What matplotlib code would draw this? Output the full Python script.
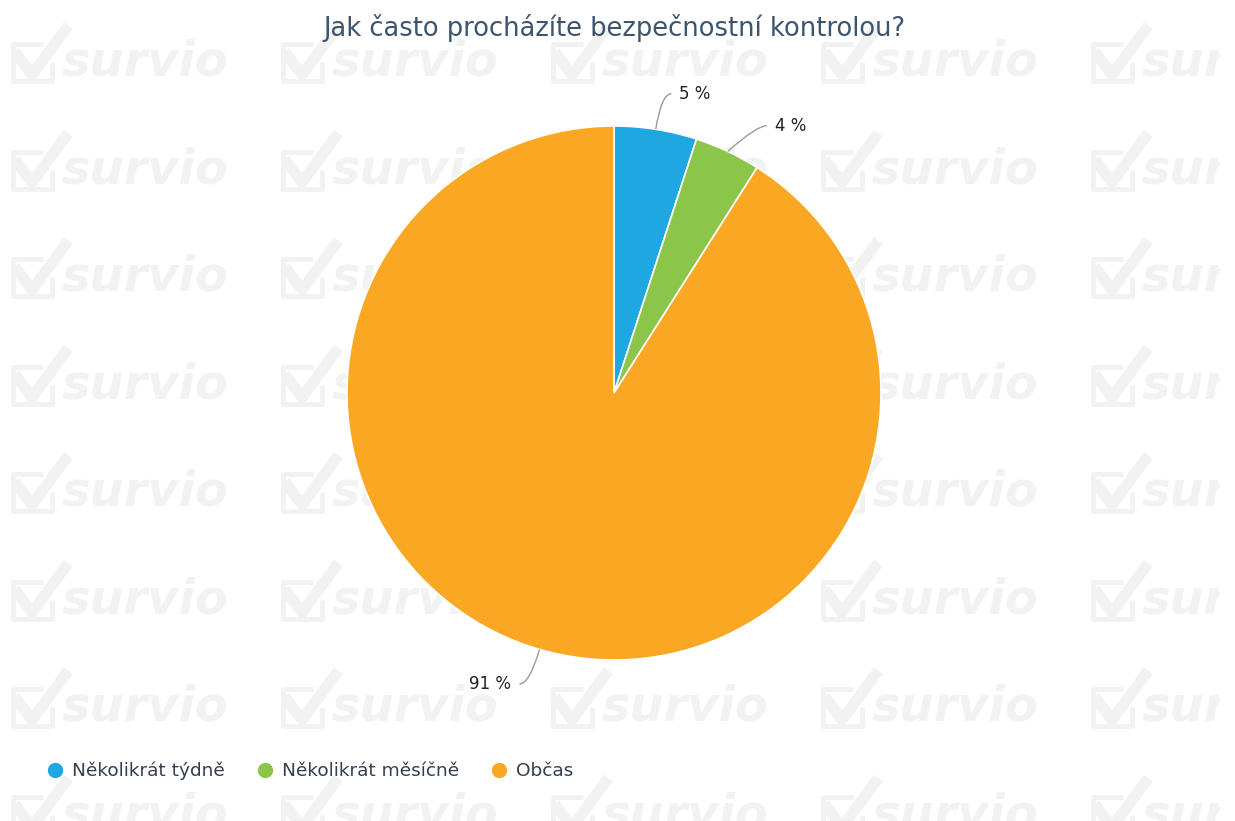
import numpy as np
import matplotlib
matplotlib.use("Agg")
import matplotlib.pyplot as plt
from matplotlib.path import Path
from matplotlib.patches import PathPatch
from matplotlib.lines import Line2D

plt.rcParams['font.family'] = ['DejaVu Sans']

# data
kategorie = ['Několikrát týdně', 'Několikrát měsíčně', 'Občas']
procenta = [5, 4, 91]
barvy = ['#1ea7e1', '#8bc54a', '#faa823']
titulek = 'Jak často procházíte bezpečnostní kontrolou?'

W, H = 1235, 821
fig = plt.figure(figsize=(W / 100, H / 100), dpi=100)

# watermark v pozadi
wm = '#f2f2f2'
bg = fig.add_axes([0, 0, 1220 / W, 1])
bg.set_xlim(0, 1220)
bg.set_ylim(0, H)
bg.axis('off')
for yy in np.arange(62, 830, 107.5):
    for xx in np.arange(10, 1220, 270):
        # ikona - ramecek a fajfka
        bg.plot([xx + 33, xx + 3, xx + 3, xx + 42, xx + 42],
                [H - yy + 18, H - yy + 18, H - yy - 19, H - yy - 19, H - yy],
                color=wm, lw=3.5, solid_capstyle='butt', clip_on=True)
        bg.plot([xx + 8, xx + 22, xx + 55], [H - yy + 6, H - yy - 13, H - yy + 32],
                color=wm, lw=8, solid_joinstyle='miter', clip_on=True)
        bg.text(xx + 52, H - yy, 'survio', fontsize=34.5, color=wm,
                fontweight='bold', style='italic', ha='left', va='center',
                clip_on=True)

ax = fig.add_axes([0, 0, 1, 1])
ax.patch.set_alpha(0)
cx, cy, r = 614, H - 393, 267
wedges, _ = ax.pie(procenta, colors=barvy, startangle=90, counterclock=False,
                   center=(cx, cy), radius=r,
                   wedgeprops=dict(edgecolor='white', linewidth=1.2))
ax.set_xlim(0, W)
ax.set_ylim(0, H)
ax.set_aspect('equal')
ax.axis('off')

# popisky s konektory (posun dolu, kdyz jsou popisky moc blizko)
rl = r + 36
start = 0.0
prev = {1: None, -1: None}
for p in procenta:
    mid = np.deg2rad(start + p * 3.6 / 2)
    start += p * 3.6
    side = 1 if np.sin(mid) >= 0 else -1
    ex, ey = cx + r * np.sin(mid), cy + r * np.cos(mid)
    ly = cy + rl * np.cos(mid)
    if prev[side] is not None and prev[side] - ly < 32:
        ly = prev[side] - 32
    prev[side] = ly
    lx = cx + side * np.sqrt(max(rl ** 2 - (ly - cy) ** 2, 0))
    endx = lx + side * 10
    path = Path([(ex, ey), (lx, ly), (endx, ly)],
                [Path.MOVETO, Path.CURVE3, Path.CURVE3])
    ax.add_patch(PathPatch(path, fill=False, edgecolor='#9a9a9a', lw=1))
    ax.text(endx + side * 8, ly, f'{p} %', fontsize=12, color='#222222',
            ha='left' if side > 0 else 'right', va='center')

fig.text(614 / W, 1 - 28 / H, titulek, fontsize=18.5, color='#3b556f',
         ha='center', va='center')

handles = [Line2D([], [], marker='o', linestyle='none', markersize=10,
                  markerfacecolor=c, markeredgecolor=c) for c in barvy]
leg = fig.legend(handles, kategorie, loc='center left',
                 bbox_to_anchor=(48 / W, 1 - 771 / H), ncol=3, frameon=False,
                 fontsize=13.3, handlelength=0.8, handletextpad=0.5,
                 columnspacing=1.78, borderpad=0, borderaxespad=0)
for t in leg.get_texts():
    t.set_color('#333e50')

fig.savefig('out.png', dpi=100)
